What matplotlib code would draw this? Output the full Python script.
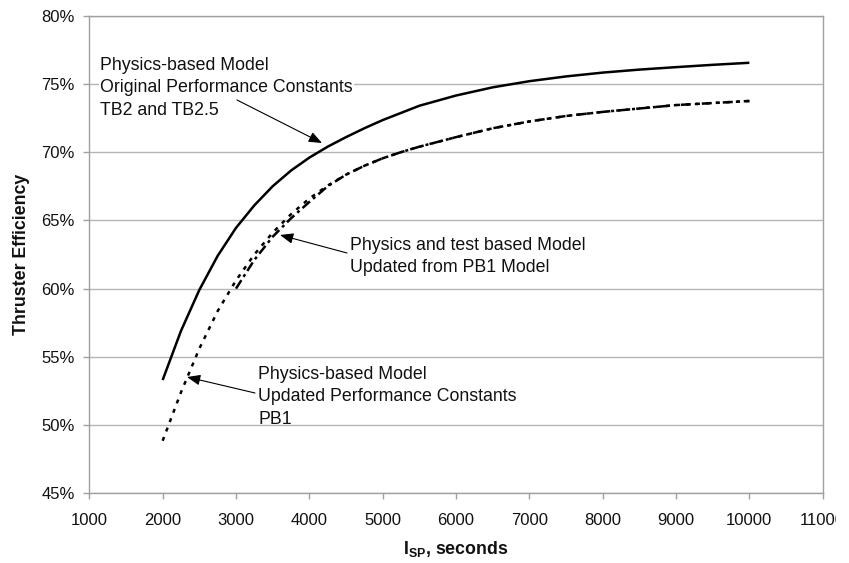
import matplotlib
matplotlib.use("Agg")
import matplotlib.pyplot as plt
from matplotlib.ticker import FuncFormatter, MultipleLocator
from matplotlib.transforms import Bbox

plt.rcParams['font.family'] = ['Liberation Sans', 'DejaVu Sans']

# ---- data ----
isp_solid = [2000, 2250, 2500, 2750, 3000, 3250, 3500, 3750, 4000, 4250, 4500,
             4750, 5000, 5500, 6000, 6500, 7000, 7500, 8000, 8500, 9000, 9500, 10000]
eff_solid = [53.3, 56.9, 59.9, 62.4, 64.45, 66.1, 67.5, 68.65, 69.6, 70.4, 71.1,
             71.75, 72.35, 73.4, 74.15, 74.75, 75.2, 75.55, 75.83, 76.05, 76.23, 76.4, 76.55]

isp_pb1 = [2000, 2250, 2500, 2750, 3000, 3250, 3500, 3750, 4000, 4250, 4500, 4750,
           5000, 5250, 5500, 5750, 6000, 6500, 7000, 7500, 8000, 8500, 9000, 9500, 10000]
eff_pb1 = [48.85, 52.4, 55.6, 58.35, 60.6, 62.5, 64.1, 65.45, 66.6, 67.55, 68.35, 69.0,
           69.55, 70.0, 70.4, 70.75, 71.1, 71.75, 72.25, 72.65, 72.95, 73.2, 73.45, 73.6, 73.75]

isp_test = [3000, 3250, 3500, 3750, 4000, 4250, 4500, 4750, 5000, 5250, 5500, 5750,
            6000, 6500, 7000, 7500, 8000, 8500, 9000, 9500, 10000]
eff_test = [60.0, 62.1, 63.8, 65.15, 66.35, 67.5, 68.35, 69.0, 69.55, 70.0, 70.4, 70.75,
            71.1, 71.75, 72.25, 72.65, 72.95, 73.2, 73.45, 73.6, 73.75]

label_orig = "Physics-based Model\nOriginal Performance Constants\nTB2 and TB2.5"
label_test = "Physics and test based Model\nUpdated from PB1 Model"
label_pb1 = "Physics-based Model\nUpdated Performance Constants\nPB1"

x_label = r"I$_{\mathregular{SP}}$, seconds"
y_label = "Thruster Efficiency"

# ---- figure ----
W, H = 849, 563
fig = plt.figure(figsize=(W / 100, H / 100), dpi=100)
ax = fig.add_axes([89.3 / W, 1 - 493.3 / H, (822.7 - 89.3) / W, (493.3 - 15.7) / H])

grid_c = '#b4b4b4'
spine_c = '#a0a0a0'

ax.set_xlim(1000, 11000)
ax.set_ylim(45, 80)
ax.xaxis.set_major_locator(MultipleLocator(1000))
ax.yaxis.set_major_locator(MultipleLocator(5))
ax.yaxis.set_major_formatter(FuncFormatter(lambda v, p: f"{v:.0f}%"))
ax.xaxis.set_major_formatter(FuncFormatter(lambda v, p: f"{v:.0f}"))
ax.grid(axis='y', color=grid_c, linewidth=1.0)
ax.set_axisbelow(True)
for s in ax.spines.values():
    s.set_color(spine_c)
    s.set_linewidth(1.0)
ax.tick_params(axis='both', which='major', direction='out', length=4.5,
               width=1.0, color=spine_c, labelsize=12, labelcolor='#111111')
ax.tick_params(axis='y', pad=6.0)
ax.tick_params(axis='x', pad=10)

lw = 1.8
ax.plot(isp_solid, eff_solid, color='black', linewidth=lw, solid_capstyle='butt',
        solid_joinstyle='round', clip_on=False, zorder=3)
ax.plot(isp_pb1, eff_pb1, color='black', linewidth=lw, linestyle=(0, (1.6, 2.4)),
        dash_capstyle='butt', clip_on=False, zorder=3)
ax.plot(isp_test, eff_test, color='black', linewidth=lw, linestyle=(0, (4, 1.6, 1.2, 1.6)),
        dash_capstyle='butt', clip_on=False, zorder=3)

# ---- annotations (positions in figure pixels measured from top-left) ----
def fp(x, y):
    return (x, H - y)

txt_kw = dict(fontsize=12.8, color='#111111', ha='left', va='top', linespacing=1.42,
              transform=fig.transFigure, zorder=4)

ax.text(100 / W, 1 - 57 / H, label_orig,
        bbox=dict(facecolor='white', edgecolor='none', pad=1.0), **txt_kw)
ax.text(350 / W, 1 - 237 / H, label_test, **txt_kw)
ax.text(258 / W, 1 - 366 / H, label_pb1, **txt_kw)

arrow_kw = dict(arrowstyle='-|>,head_length=0.8,head_width=0.32', color='black',
                linewidth=0.8, shrinkA=0, shrinkB=0)
for tip, tail in [((322, 143), (237, 100)),
                  ((280, 235), (347, 253)),
                  ((187, 377), (255, 393))]:
    ax.annotate('', xy=fp(*tip), xycoords='figure pixels',
                xytext=fp(*tail), textcoords='figure pixels',
                arrowprops=arrow_kw, zorder=6)

fig.text(22 / W, 1 - 254.5 / H, y_label, rotation=90, ha='center', va='center',
         fontsize=12.8, fontweight='bold', color='#111111')
fig.text(456 / W, 1 - 549 / H, x_label, ha='center', va='center',
         fontsize=12.8, fontweight='bold', color='#111111')

# the last x tick label is cut at the chart border in the reference
fig.canvas.draw()
clip = Bbox([[0, 0], [836, H]])
for lbl in ax.get_xticklabels():
    lbl.set_clip_on(True)
    lbl.set_clip_box(clip)

fig.savefig('out.png', dpi=100)
